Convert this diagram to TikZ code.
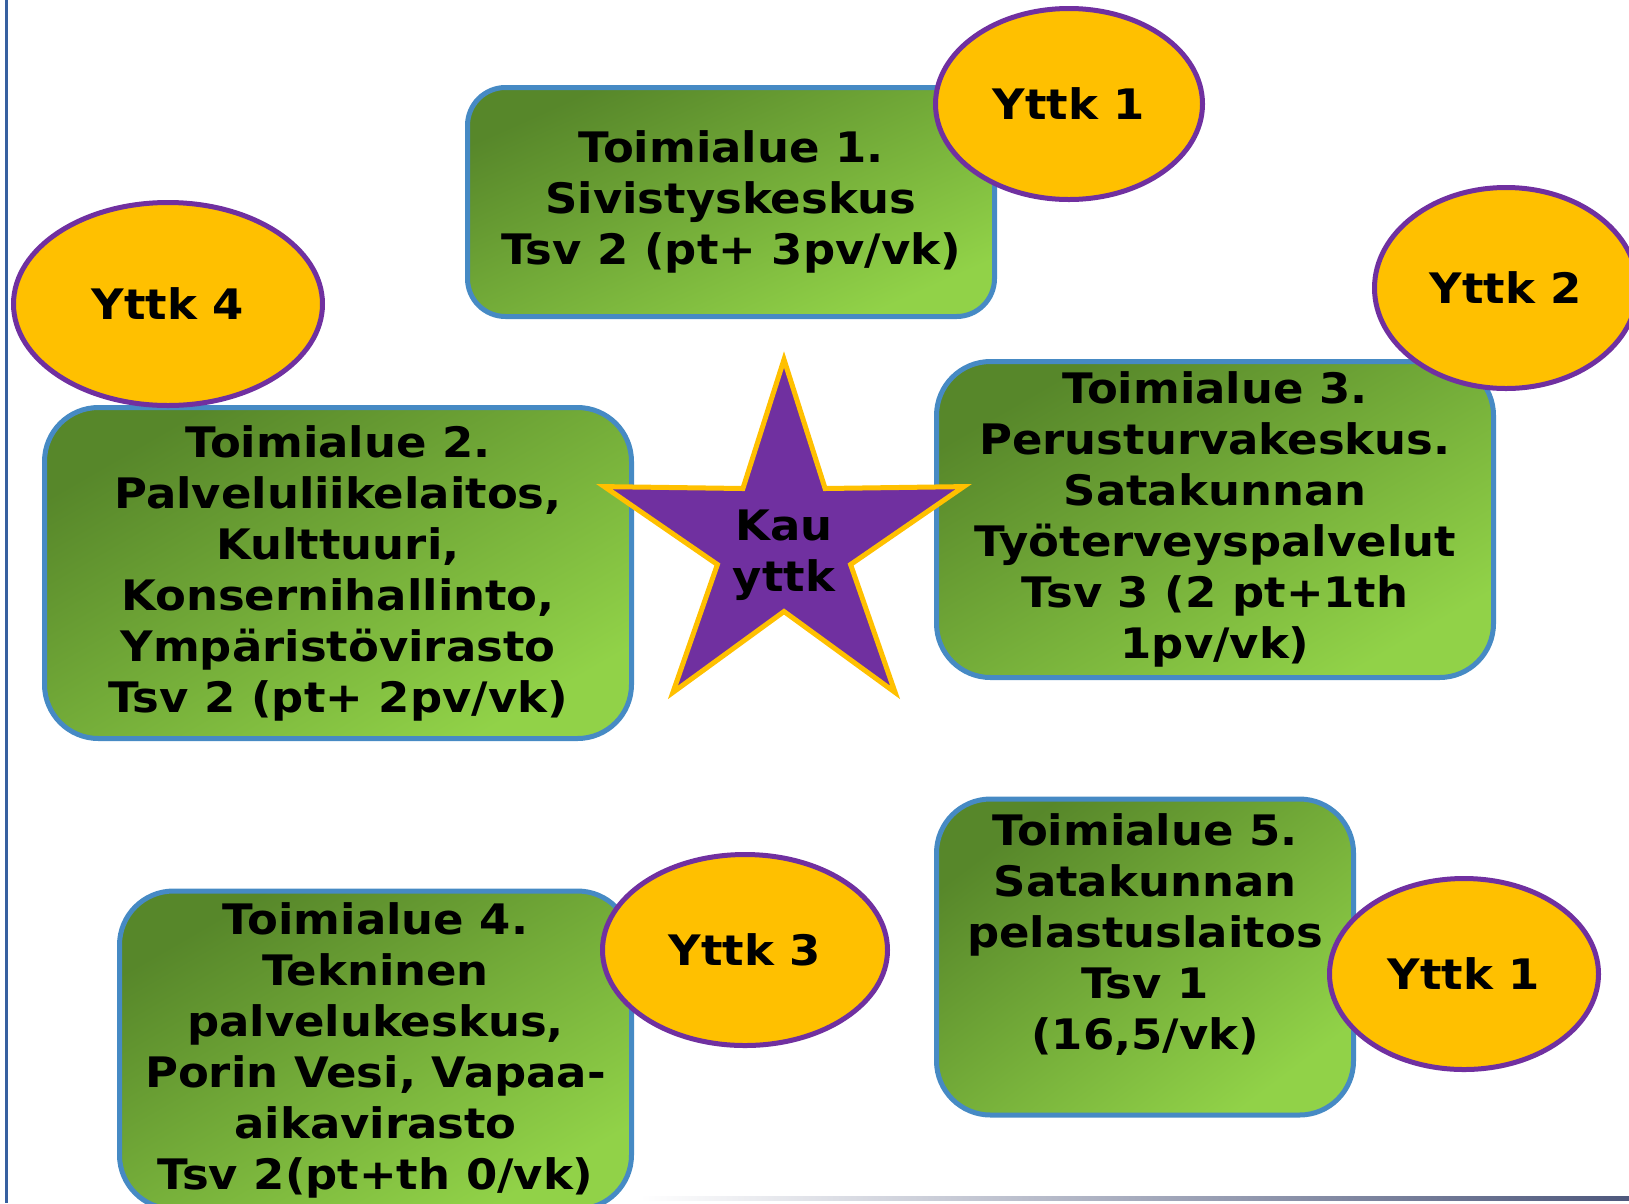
\documentclass[tikz,border=0pt]{standalone}
\usepackage{fontspec}
\setmainfont[FakeStretch=1.07]{DejaVu Sans}
\usetikzlibrary{shapes.geometric}
\definecolor{areadark}{RGB}{87,135,42}
\definecolor{arealight}{RGB}{145,210,72}
\definecolor{areaedge}{RGB}{70,138,196}
\definecolor{yttkfill}{RGB}{255,192,0}
\definecolor{yttkedge}{RGB}{112,48,160}
\definecolor{frameblue}{RGB}{55,96,160}
\definecolor{rulegrey}{RGB}{78,88,124}
\tikzset{
  area/.style={rectangle, rounded corners=54pt, draw=areaedge, line width=5pt,
    top color=areadark, bottom color=arealight, shading angle=30,
    align=center, inner sep=0pt, font=\bfseries\fontsize{42}{51}\selectfont},
  yttk/.style={ellipse, draw=yttkedge, fill=yttkfill, line width=5pt,
    inner sep=0pt, font=\bfseries\fontsize{42}{51}\selectfont},
}
\begin{document}
\begin{tikzpicture}[x=1pt,y=-1pt]
\useasboundingbox (0,0) rectangle (1629,1203);
\fill[frameblue] (5,0) rectangle (7.5,1203);
\shade[left color=white, right color=rulegrey] (640,1196) rectangle (1629,1200);
\node[area, rounded corners=38pt, shading angle=24, minimum width=527pt, minimum height=229pt] (toim1) at (731,202) {Toimialue 1.\\ Sivistyskeskus\\ Tsv 2 (pt+ 3pv/vk)};
\node[area, minimum width=587pt, minimum height=331pt] (toim2) at (338,573) {Toimialue 2.\\ Palveluliikelaitos,\\ Kulttuuri,\\ Konsernihallinto,\\ Ympäristövirasto\\ Tsv 2 (pt+ 2pv/vk)};
\node[area, minimum width=557pt, minimum height=316pt] (toim3) at (1215,519.5) {Toimialue 3.\\ Perusturvakeskus.\\ Satakunnan\\ Työterveyspalvelut\\ Tsv 3 (2 pt+1th\\ 1pv/vk)};
\node[area, minimum width=512pt, minimum height=318pt] (toim4) at (375.5,1050) {Toimialue 4.\\ Tekninen\\ palvelukeskus,\\ Porin Vesi, Vapaa-\\ aikavirasto\\ Tsv 2(pt+th 0/vk)};
\node[area, shading angle=37, minimum width=417pt, minimum height=316pt] (toim5) at (1145,957) {Toimialue 5.\\ Satakunnan\\ pelastuslaitos\\ Tsv 1\\ (16,5/vk)\\ \mbox{}};
\draw[line width=5pt, draw=yttkfill, fill=yttkedge] (784,359.5) -- (825.1,488.5) -- (963.7,486.6) -- (850.6,564.5) -- (895.1,692.4) -- (784,611.5) -- (672.9,692.4) -- (717.4,564.5) -- (604.3,486.6) -- (742.9,488.5) -- cycle;
\node[align=center, inner sep=0pt, font=\bfseries\fontsize{42}{51}\selectfont] (kau) at (784,555) {Kau\\ yttk};
\node[yttk, minimum width=267pt, minimum height=191pt] (yttk1) at (1069,104) {Yttk 1};
\node[yttk, minimum width=309pt, minimum height=203pt] (yttk4) at (168,304) {Yttk 4};
\node[yttk, minimum width=263pt, minimum height=201pt] (yttk2) at (1506,288) {Yttk 2};
\node[yttk, minimum width=285pt, minimum height=191pt] (yttk3) at (745,950) {Yttk 3};
\node[yttk, minimum width=269pt, minimum height=191pt] (yttk1b) at (1464,974) {Yttk 1};
\end{tikzpicture}
\end{document}
